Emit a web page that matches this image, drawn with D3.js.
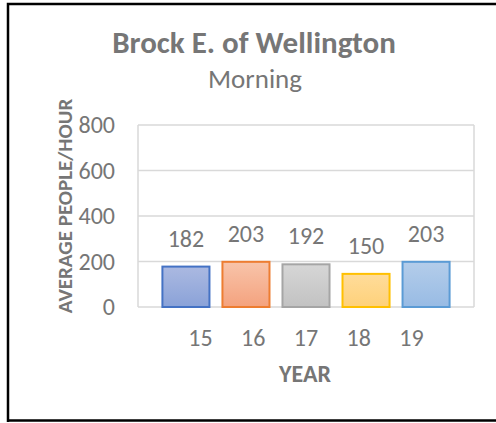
<!DOCTYPE html>
<html>
<head>
<meta charset="utf-8">
<script src="https://cdn.jsdelivr.net/npm/d3@7"></script>
<style>
  body { margin: 0; background: #fff; }
  text { font-family: Carlito, Lato, "Liberation Sans", sans-serif; fill: #767676; }
</style>
</head>
<body>
<svg id="chart" width="496" height="423"></svg>
<script>
let years = ["15", "16", "17", "18", "19"];
let values = [182, 203, 192, 150, 203];
let yTicks = [0, 200, 400, 600, 800];
let strokes = ["#4472c4", "#ed7d31", "#a5a5a5", "#ffc000", "#5b9bd5"];
let fillTop = ["#abb9e1", "#f8c4aa", "#d6d6d6", "#ffdc9a", "#b4cdea"];
let fillBottom = ["#8aa2d8", "#f4a27e", "#c2c2c2", "#fed17a", "#98bbe4"];

let svg = d3.select("#chart");

let plotLeft = 138, plotRight = 474, plotTop = 125, plotBottom = 307;
let fontStack = "Carlito, Lato, 'Liberation Sans', sans-serif";

let xScale = d3.scaleBand().domain(years).range([plotLeft, plotRight])
    .paddingInner(0.183).paddingOuter(0.39);
// Excel put the category labels slightly off the bars; keep that
let labelScale = d3.scalePoint().domain(years).range([200, 411]);
let yScale = d3.scaleLinear().domain([0, 800]).range([plotBottom, plotTop]);

// frame
svg.append("path")
    .attr("d", "M8,422 V4 H496")
    .attr("fill", "none")
    .attr("stroke", "#000")
    .attr("stroke-width", 2.5);
svg.append("line")
    .attr("x1", 8).attr("x2", 496)
    .attr("y1", 420.5).attr("y2", 420.5)
    .attr("stroke", "#000").attr("stroke-width", 2.5);

// gradients
let defs = svg.append("defs");
years.forEach(function(y, i) {
    let grad = defs.append("linearGradient")
        .attr("id", "g" + i)
        .attr("x1", 0).attr("x2", 0).attr("y1", 0).attr("y2", 1);
    grad.append("stop").attr("offset", "0%").attr("stop-color", fillTop[i]);
    grad.append("stop").attr("offset", "100%").attr("stop-color", fillBottom[i]);
});

// grid + plot border
svg.append("g")
    .selectAll("line")
    .data(yTicks)
    .enter()
    .append("line")
    .attr("x1", plotLeft).attr("x2", plotRight)
    .attr("y1", d => yScale(d)).attr("y2", d => yScale(d))
    .attr("stroke", "#d9d9d9")
    .attr("stroke-width", 1.5);

svg.append("line")
    .attr("x1", plotLeft).attr("x2", plotLeft)
    .attr("y1", plotTop).attr("y2", plotBottom)
    .attr("stroke", "#d9d9d9").attr("stroke-width", 1.5);
svg.append("line")
    .attr("x1", plotRight).attr("x2", plotRight)
    .attr("y1", plotTop).attr("y2", plotBottom)
    .attr("stroke", "#d9d9d9").attr("stroke-width", 1.5);

// y axis labels
let yAxis = svg.append("g")
    .attr("transform", "translate(" + 115 + ",0)")
    .call(d3.axisLeft(yScale).tickValues(yTicks).tickSize(0).tickPadding(0));
yAxis.select(".domain").remove();
yAxis.selectAll("text")
    .style("font-size", "24px")
    .style("fill", "#767676")
    .style("font-family", fontStack);

// x axis labels
let xAxis = svg.append("g")
    .attr("transform", "translate(0," + 329 + ")")
    .call(d3.axisBottom(labelScale).tickSize(0).tickPadding(0));
xAxis.select(".domain").remove();
xAxis.selectAll("text")
    .style("font-size", "24px")
    .style("fill", "#767676")
    .style("font-family", fontStack);

// bars
let data = years.map(function(y, i) { return {year: y, value: values[i], i: i}; });

svg.append("g")
    .selectAll("rect")
    .data(data)
    .enter()
    .append("rect")
    .attr("x", d => xScale(d.year) + 1)
    .attr("width", xScale.bandwidth() - 2)
    .attr("y", d => yScale(d.value) + 1)
    .attr("height", d => yScale(0) - yScale(d.value) - 1)
    .attr("fill", d => "url(#g" + d.i + ")")
    .attr("stroke", d => strokes[d.i])
    .attr("stroke-width", 2);

svg.append("g")
    .selectAll("text")
    .data(data)
    .enter()
    .append("text")
    .attr("x", d => xScale(d.year) + xScale.bandwidth() / 2)
    .attr("y", d => yScale(d.value) - 19)
    .attr("text-anchor", "middle")
    .style("font-size", "24px")
    .text(d => d.value);

// titles
svg.append("text")
    .attr("x", 254).attr("y", 53)
    .attr("text-anchor", "middle")
    .style("font-size", "31px")
    .style("font-weight", "bold")
    .text("Brock E. of Wellington");

svg.append("text")
    .attr("x", 255).attr("y", 88)
    .attr("text-anchor", "middle")
    .style("font-size", "27px")
    .text("Morning");

svg.append("text")
    .attr("x", 305).attr("y", 382)
    .attr("text-anchor", "middle")
    .style("font-size", "24px")
    .style("font-weight", "bold")
    .text("YEAR");

svg.append("text")
    .attr("transform", "translate(72,206) rotate(-90)")
    .attr("text-anchor", "middle")
    .style("font-size", "21px")
    .style("font-weight", "bold")
    .text("AVERAGE PEOPLE/HOUR");
</script>
</body>
</html>
